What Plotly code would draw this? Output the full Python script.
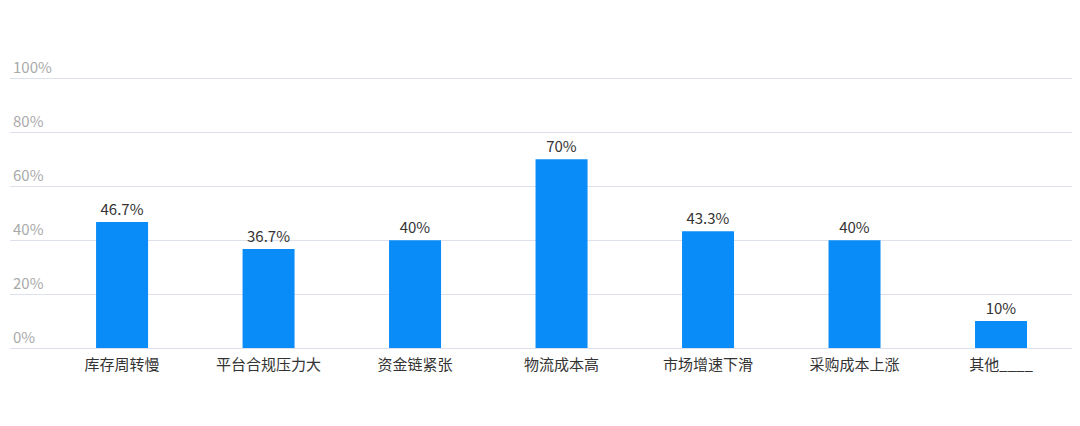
import plotly.graph_objects as go

categories = ["库存周转慢", "平台合规压力大", "资金链紧张", "物流成本高", "市场增速下滑", "采购成本上涨", "其他____"]
values = [46.7, 36.7, 40, 70, 43.3, 40, 10]
value_labels = ["46.7%", "36.7%", "40%", "70%", "43.3%", "40%", "10%"]
y_ticks = [0, 20, 40, 60, 80, 100]
y_tick_labels = ["0%", "20%", "40%", "60%", "80%", "100%"]

fig = go.Figure(go.Bar(
    x=list(range(len(categories))),
    y=values,
    text=value_labels,
    textposition="outside",
    textfont=dict(size=15, color="#333333"),
    marker=dict(color="#0A8CF8", line=dict(width=0)),
    width=0.355,
    cliponaxis=False,
))

fig.update_layout(
    width=1080, height=426,
    margin=dict(l=2, r=13, t=38, b=86, autoexpand=False),
    paper_bgcolor="white", plot_bgcolor="white",
    font=dict(family="Noto Sans CJK SC, Noto Sans, sans-serif"),
    showlegend=False,
    xaxis=dict(
        tickmode="array",
        tickvals=list(range(len(categories))),
        ticktext=categories,
        range=[-0.765, 6.505],
        showgrid=False, zeroline=False, showline=False,
        tickfont=dict(size=15, color="#333333"),
        ticks="",
        ticklabelstandoff=6,
        automargin=False,
    ),
    yaxis=dict(
        range=[0, 112],
        tickmode="array",
        tickvals=y_ticks,
        ticktext=y_tick_labels,
        ticklabelposition="inside top",
        tickfont=dict(size=15, color="#AAAAAA"),
        gridcolor="#DDE1EC", gridwidth=1,
        zeroline=True, zerolinecolor="#DDE1EC", zerolinewidth=1,
        showline=False, ticks="",
        automargin=False,
    ),
)

fig.write_html("out.html")
